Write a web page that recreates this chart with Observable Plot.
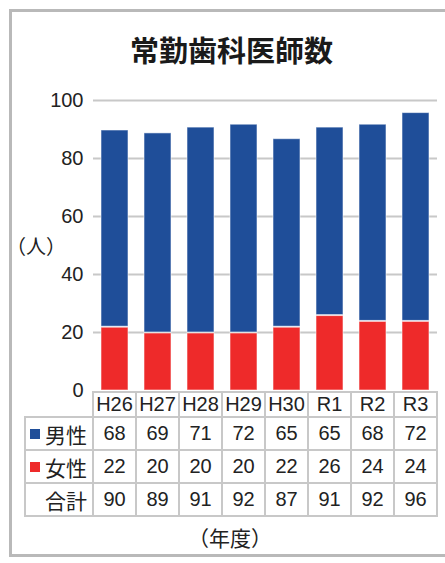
<!DOCTYPE html>
<html><head><meta charset="utf-8">
<script src="https://cdn.jsdelivr.net/npm/d3@7"></script>
<script src="https://cdn.jsdelivr.net/npm/@observablehq/plot@0.6"></script>
<style>
html,body{margin:0;padding:0;background:#fff;width:445px;height:563px;overflow:hidden;position:relative;}
#frame{position:absolute;left:9px;top:9px;width:460px;height:542px;border:3px solid #b9b9b9;border-right:none;}
#title{position:absolute;left:9px;width:445px;top:31px;text-align:center;font-family:"Noto Sans CJK JP",sans-serif;font-weight:bold;font-size:29px;line-height:36px;color:#1a1a1a;}
#unit{position:absolute;left:-4px;width:80px;top:233px;text-align:center;font-family:"Noto Sans CJK JP",sans-serif;font-size:20px;line-height:26px;color:#222;}
#chart{position:absolute;left:0;top:80px;}
#xlabel{position:absolute;left:130px;width:200px;top:523px;text-align:center;font-family:"Noto Sans CJK JP",sans-serif;font-size:21px;line-height:28px;color:#222;}
.cell{position:absolute;box-sizing:border-box;border:2px solid #c8c8c8;display:flex;align-items:center;justify-content:center;font-family:"Liberation Sans",Arial,sans-serif;font-size:20px;color:#222;background:#fff;}
.lab{justify-content:flex-end;padding-right:5px;font-family:"Noto Sans CJK JP",sans-serif;font-size:21px;}
.sq{display:inline-block;width:10px;height:10px;margin-right:5px;}
</style></head><body>
<div id="frame"></div>
<div id="title">常勤歯科医師数</div>
<div id="unit">（人）</div>
<div id="chart"></div>
<div id="tbl"></div>
<div id="xlabel">（年度）</div>
<script>
const years = ["H26","H27","H28","H29","H30","R1","R2","R3"];
const male = [68,69,71,72,65,65,68,72];
const female = [22,20,20,20,22,26,24,24];
const total = [90,89,91,92,87,91,92,96];
const seriesNames = ["男性","女性"];
const seriesColors = ["#1f4e99","#ee2a2a"];
const totalLabel = "合計";
const yTicks = [0,20,40,60,80,100];

const rows = [];
years.forEach((y,i)=>{
  rows.push({year:y, sex:"女性", v:female[i]});
  rows.push({year:y, sex:"男性", v:male[i]});
});

const chart = Plot.plot({
  width: 445, height: 312,
  marginLeft: 93, marginRight: 8, marginTop: 20, marginBottom: 2,
  style: {fontFamily: "'Liberation Sans', Arial, sans-serif", fontSize: "20px", color: "#222", background: "transparent", overflow: "visible"},
  x: {domain: years, paddingInner: 0.37, paddingOuter: 0.185, axis: null},
  y: {domain: [0,100], ticks: yTicks, label: null},
  color: {domain: seriesNames, range: seriesColors},
  marks: [
    Plot.gridY(yTicks.filter(t=>t>0), {stroke: "#c8c8c8", strokeOpacity: 1, strokeWidth: 2}),
    Plot.axisY(yTicks, {tickSize: 0, tickPadding: 10, label: null, fontSize: 20}),
    Plot.barY(rows, {x:"year", y:"v", fill:"sex", stroke:"white", strokeOpacity:0.55, strokeWidth:1, insetTop:1})
  ]
});
document.getElementById("chart").appendChild(chart);

// data table aligned to the plot's x scale
const xs = chart.scale("x");
const step = xs.step, bw = xs.bandwidth;
const colLeft = d => xs.apply(d) - (step - bw)/2;
const rowTops = [392, 417, 450, 483, 516];
const labLeft = 25;
const tbl = document.getElementById("tbl");
function cell(x, y, w, h, html, cls){
  const d = document.createElement("div");
  d.className = "cell" + (cls ? " " + cls : "");
  d.style.left = (x-1) + "px"; d.style.top = (y-1) + "px";
  d.style.width = (w+2) + "px"; d.style.height = (h+2) + "px";
  d.innerHTML = html;
  tbl.appendChild(d);
}
const body = [
  {label: seriesNames[0], color: seriesColors[0], vals: male},
  {label: seriesNames[1], color: seriesColors[1], vals: female},
  {label: totalLabel, color: null, vals: total}
];
years.forEach((y,i)=>{
  const x = colLeft(y);
  cell(x, rowTops[0], step, rowTops[1]-rowTops[0], y);
  body.forEach((r,j)=>{
    cell(x, rowTops[j+1], step, rowTops[j+2]-rowTops[j+1], String(r.vals[i]));
  });
});
body.forEach((r,j)=>{
  const x0 = labLeft, w = colLeft(years[0]) - labLeft;
  const sq = r.color ? `<span class="sq" style="background:${r.color}"></span>` : "";
  cell(x0, rowTops[j+1], w, rowTops[j+2]-rowTops[j+1], sq + r.label, "lab");
});
</script>
</body></html>
